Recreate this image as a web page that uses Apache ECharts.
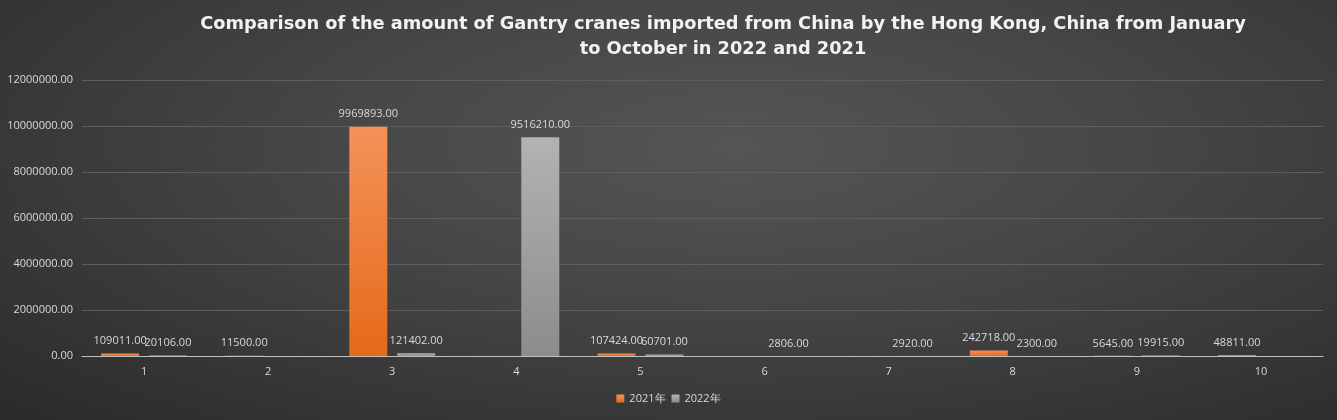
<!DOCTYPE html>
<html><head><meta charset="utf-8">
<script src="https://cdn.jsdelivr.net/npm/echarts@6/dist/echarts.min.js"></script>
<style>html,body{margin:0;padding:0;}#c{width:1337px;height:420px;background:radial-gradient(ellipse at 55% 35%, #555555 0%, #464646 40%, #2a2a2a 100%);}</style>
</head><body><div id="c"></div>
<script>
const categories = ['1','2','3','4','5','6','7','8','9','10'];
const values2021 = [109011, 11500, 9969893, null, 107424, null, null, 242718, 5645, 48811];
const values2022 = [20106, null, 121402, 9516210, 60701, 2806, 2920, 2300, 19915, null];
const seriesNames = ['2021年', '2022年'];
const titleText = 'Comparison of the amount of Gantry cranes imported from China by the Hong Kong, China from January\nto October in 2022 and 2021';

const chart = echarts.init(document.getElementById('c'), null, {renderer:'canvas'});
const lbl = {show:true, position:'top', color:'#d9d9d9', fontSize:11, fontFamily:'Open Sans', distance:7,
  formatter: p => (p.value==null? '' : Number(p.value).toFixed(2))};
chart.setOption({
  backgroundColor:'transparent',
  title:{text:titleText, left:718, textAlign:'center', top:7,
    textStyle:{color:'#f2f2f2', fontSize:17.8, fontWeight:'bold', fontFamily:'DejaVu Sans', lineHeight:25}},
  legend:{bottom:11, left:'center', itemWidth:8, itemHeight:8, itemGap:6, icon:'rect',
    textStyle:{color:'#d9d9d9', fontSize:11, fontFamily:'Open Sans'}, data:seriesNames},
  grid:{left:82, right:14, top:80, bottom:64, containLabel:false},
  xAxis:{type:'category', data:categories,
    axisLine:{lineStyle:{color:'#bfbfbf', width:1}}, axisTick:{show:false},
    axisLabel:{color:'#d9d9d9', fontSize:11, fontFamily:'Open Sans', margin:10}},
  yAxis:{type:'value', min:0, max:12000000, interval:2000000,
    axisLine:{show:false}, axisTick:{show:false},
    splitLine:{lineStyle:{color:'#5e5e5e', width:1}},
    axisLabel:{color:'#d9d9d9', fontSize:11, fontFamily:'Open Sans', margin:9, formatter:v=>v.toFixed(2)}},
  series:[
    {name:seriesNames[0], type:'bar', data:values2021, barWidth:38, barGap:'26%', label:lbl,
     itemStyle:{color:new echarts.graphic.LinearGradient(0,0,0,1,[{offset:0,color:'#f4925a'},{offset:1,color:'#e56a18'}])}},
    {name:seriesNames[1], type:'bar', data:values2022, barWidth:38, label:lbl,
     itemStyle:{color:new echarts.graphic.LinearGradient(0,0,0,1,[{offset:0,color:'#b3b3b3'},{offset:1,color:'#8c8c8c'}])}}
  ]
});
</script></body></html>
